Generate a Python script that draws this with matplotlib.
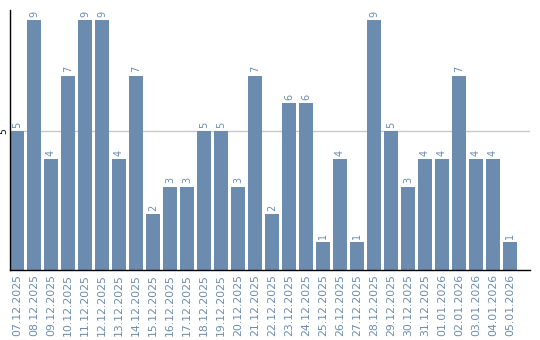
import matplotlib
matplotlib.use("Agg")
import matplotlib.pyplot as plt

dates = ["07.12.2025", "08.12.2025", "09.12.2025", "10.12.2025", "11.12.2025",
         "12.12.2025", "13.12.2025", "14.12.2025", "15.12.2025", "16.12.2025",
         "17.12.2025", "18.12.2025", "19.12.2025", "20.12.2025", "21.12.2025",
         "22.12.2025", "23.12.2025", "24.12.2025", "25.12.2025", "26.12.2025",
         "27.12.2025", "28.12.2025", "29.12.2025", "30.12.2025", "31.12.2025",
         "01.01.2026", "02.01.2026", "03.01.2026", "04.01.2026", "05.01.2026"]
values = [5, 9, 4, 7, 9, 9, 4, 7, 2, 3, 3, 5, 5, 3, 7, 2, 6, 6, 1, 4,
          1, 9, 5, 3, 4, 4, 7, 4, 4, 1]
yticks = [5]

bar_color = "#6b8cae"
text_color = "#6b8cae"

fig = plt.figure(figsize=(5.4, 3.4), dpi=100)
ax = fig.add_axes([10/540, 1-270/340, 520/540, 260/340])

width = 14/17
x = list(range(len(values)))
ax.bar(x, values, width=width, color=bar_color, zorder=2)
for xi, v in zip(x, values):
    ax.text(xi, v + 0.12, str(v), rotation=90, ha="center", va="bottom",
            color=text_color, fontsize=7, zorder=3)

ax.set_xlim(-width/2, -width/2 + 520/17)
ax.set_ylim(0, 9.36)
ax.set_yticks(yticks)
ax.set_yticklabels([str(t) for t in yticks], rotation=90, va="center", fontsize=6.5)
ax.yaxis.grid(True, color="#c8c8c8", linewidth=1, zorder=0)
ax.set_xticks(x)
ax.set_xticklabels(dates, rotation=90, color=text_color, fontsize=7.8)
ax.tick_params(axis="both", length=0, pad=3)
ax.tick_params(axis="y", pad=1)
for s in ["top", "right"]:
    ax.spines[s].set_visible(False)
ax.spines["left"].set_linewidth(1.0)
ax.spines["bottom"].set_linewidth(1.0)
ax.set_axisbelow(True)

fig.savefig("out.png", dpi=100)
